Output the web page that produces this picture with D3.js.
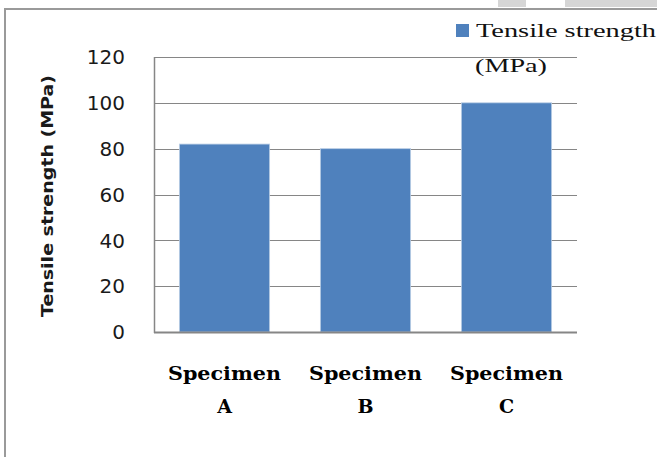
<!DOCTYPE html>
<html lang="en">
<head>
  <meta charset="UTF-8">
  <title>Tensile strength</title>
  <script src="https://d3js.org/d3.v7.min.js"></script>
  <style>
    body { margin: 0; padding: 0; background: #fff; }
    svg { display: block; }
  </style>
</head>
<body>
  <svg width="657" height="457"></svg>
  <script>
    const specimens = ["A", "B", "C"];
    const strength = [82, 80, 100];
    const yTicks = [0, 20, 40, 60, 80, 100, 120];

    const width = 657, height = 457;
    const margin = { top: 57, right: 80, bottom: 125, left: 154 };
    const plotRight = width - margin.right;

    const svg = d3.select("svg");

    svg.append("rect").attr("width", width).attr("height", height).attr("fill", "#fff");

    // bits of page showing above the frame
    svg.append("rect").attr("x", 498).attr("y", 0).attr("width", 28).attr("height", 7).attr("fill", "#d6d6d6");
    svg.append("rect").attr("x", 565).attr("y", 0).attr("width", 92).attr("height", 7).attr("fill", "#d6d6d6");

    // chart frame
    svg.append("path")
      .attr("d", `M5,${height} V9 H${width}`)
      .attr("fill", "none")
      .attr("stroke", "#9a9a9a")
      .attr("stroke-width", 2);

    const x = d3.scaleBand()
      .domain(specimens)
      .range([margin.left, plotRight])
      .paddingInner(0.36)
      .paddingOuter(0.18);

    const y = d3.scaleLinear()
      .domain([0, 120])
      .range([height - margin.bottom, margin.top]);

    // gridlines
    svg.append("g")
      .selectAll("line")
      .data(yTicks)
      .join("line")
      .attr("x1", margin.left)
      .attr("x2", plotRight)
      .attr("y1", d => Math.round(y(d)) + 0.5)
      .attr("y2", d => Math.round(y(d)) + 0.5)
      .attr("stroke", "#868686")
      .attr("stroke-width", 1.2);

    // y tick labels
    svg.append("g")
      .selectAll("text")
      .data(yTicks)
      .join("text")
      .attr("x", 125)
      .attr("y", d => y(d))
      .attr("dy", "0.36em")
      .attr("text-anchor", "end")
      .attr("font-family", "DejaVu Sans, sans-serif")
      .attr("font-size", 20)
      .attr("fill", "#1a1a1a")
      .text(d => d);

    // bars
    svg.append("g")
      .selectAll("rect")
      .data(strength)
      .join("rect")
      .attr("x", (d, i) => x(specimens[i]))
      .attr("y", d => y(d))
      .attr("width", x.bandwidth())
      .attr("height", d => y(0) - y(d))
      .attr("fill", "#4f81bd")
      .attr("stroke", "#b9cde5")
      .attr("stroke-width", 0.8);

    // axes lines
    svg.append("line")
      .attr("x1", margin.left + 0.5).attr("x2", margin.left + 0.5)
      .attr("y1", y(120)).attr("y2", y(0) + 1)
      .attr("stroke", "#868686").attr("stroke-width", 1.5);
    svg.append("line")
      .attr("x1", margin.left).attr("x2", plotRight)
      .attr("y1", y(0) + 0.5).attr("y2", y(0) + 0.5)
      .attr("stroke", "#868686").attr("stroke-width", 1.8);

    // x labels
    const xl = svg.append("g")
      .selectAll("g")
      .data(specimens)
      .join("g")
      .attr("transform", d => `translate(${x(d) + x.bandwidth() / 2},0)`)
      .attr("font-family", "DejaVu Serif, serif")
      .attr("font-weight", "bold")
      .attr("font-size", 19)
      .attr("text-anchor", "middle")
      .attr("fill", "#000");
    xl.append("text")
      .attr("y", 380)
      .attr("textLength", 113)
      .attr("lengthAdjust", "spacingAndGlyphs")
      .text("Specimen");
    xl.append("text")
      .attr("y", 413)
      .text(d => d);

    // y axis title
    svg.append("text")
      .attr("transform", "translate(53,196) rotate(-90)")
      .attr("text-anchor", "middle")
      .attr("font-family", "DejaVu Sans, sans-serif")
      .attr("font-weight", "bold")
      .attr("font-size", 15)
      .attr("textLength", 242)
      .attr("lengthAdjust", "spacingAndGlyphs")
      .attr("fill", "#1a1a1a")
      .text("Tensile strength (MPa)");

    // legend
    const legend = svg.append("g").attr("font-family", "Liberation Serif, serif").attr("font-size", 19).attr("fill", "#111");
    legend.append("rect")
      .attr("x", 456).attr("y", 24).attr("width", 13).attr("height", 13)
      .attr("fill", "#4f81bd");
    legend.append("text")
      .attr("x", 476).attr("y", 37)
      .attr("textLength", 180)
      .attr("lengthAdjust", "spacingAndGlyphs")
      .text("Tensile strength");
    legend.append("text")
      .attr("x", 511).attr("y", 72)
      .attr("text-anchor", "middle")
      .attr("textLength", 72)
      .attr("lengthAdjust", "spacingAndGlyphs")
      .text("(MPa)");
  </script>
</body>
</html>
